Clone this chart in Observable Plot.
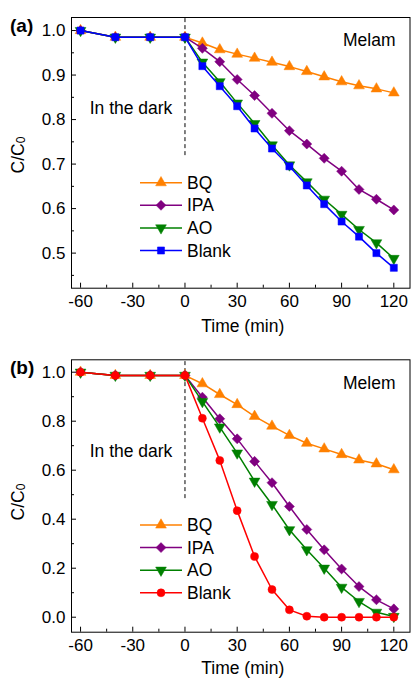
<!DOCTYPE html>
<html><head><meta charset="utf-8">
<script src="https://cdn.jsdelivr.net/npm/d3@7"></script>
<script src="https://cdn.jsdelivr.net/npm/@observablehq/plot@0.6"></script>
<style>
body{margin:0;background:#fff;}
#wrap{position:relative;width:411px;height:678px;font-family:"Liberation Sans",Arial,sans-serif;}
.panel{position:absolute;left:0;width:411px;height:339px;}
.panel svg{overflow:visible;}
</style></head><body><div id="wrap"></div>
<script>
// ---------- data ----------
const time = [-60,-40,-20,0,10,20,30,40,50,60,70,80,90,100,110,120];
const seriesNames = ["BQ","IPA","AO","Blank"];

const melamBQ    = [1.0,0.985,0.985,0.985,0.972,0.957,0.947,0.938,0.929,0.919,0.908,0.896,0.885,0.876,0.869,0.860];
const melamIPA   = [1.0,0.985,0.985,0.985,0.960,0.930,0.890,0.854,0.814,0.775,0.745,0.713,0.684,0.643,0.621,0.597];
const melamAO    = [1.0,0.985,0.985,0.985,0.929,0.885,0.837,0.791,0.743,0.698,0.660,0.621,0.587,0.553,0.523,0.488];
const melamBlank = [1.0,0.985,0.985,0.985,0.920,0.875,0.830,0.780,0.735,0.695,0.652,0.610,0.571,0.537,0.500,0.467];

const melemBQ    = [1.0,0.987,0.987,0.987,0.953,0.909,0.868,0.820,0.780,0.742,0.710,0.687,0.664,0.642,0.626,0.602];
const melemIPA   = [1.0,0.987,0.987,0.987,0.898,0.810,0.728,0.636,0.549,0.452,0.358,0.275,0.197,0.125,0.071,0.034];
const melemAO    = [1.0,0.987,0.987,0.987,0.880,0.776,0.670,0.555,0.460,0.357,0.275,0.200,0.122,0.064,0.020,0.003];
const melemBlank = [1.0,0.987,0.987,0.987,0.812,0.640,0.435,0.248,0.113,0.030,0.004,0.000,0.000,0.000,0.000,0.000];

const xTicks  = [-60,-30,0,30,60,90,120];
const xMinor  = [-45,-15,15,45,75,105];
const yTicksA = [0.5,0.6,0.7,0.8,0.9,1.0];
const yMinorA = [0.45,0.55,0.65,0.75,0.85,0.95];
const yTicksB = [0.0,0.2,0.4,0.6,0.8,1.0];
const yMinorB = [0.1,0.3,0.5,0.7,0.9];

// ---------- symbols ----------
const triDown = {draw(ctx, size){
  const a = Math.sqrt(size*4/Math.sqrt(3)), h = a*Math.sqrt(3)/2;
  ctx.moveTo(0, 2*h/3); ctx.lineTo(a/2, -h/3); ctx.lineTo(-a/2, -h/3); ctx.closePath();
}};
const triUp = {draw(ctx, size){
  const a = Math.sqrt(size*4/Math.sqrt(3)), h = a*Math.sqrt(3)/2;
  ctx.moveTo(0, -2*h/3); ctx.lineTo(a/2, h/3); ctx.lineTo(-a/2, h/3); ctx.closePath();
}};
const diamond = {draw(ctx, size){
  const d = Math.sqrt(size/2);
  ctx.moveTo(0,-d); ctx.lineTo(d,0); ctx.lineTo(0,d); ctx.lineTo(-d,0); ctx.closePath();
}};
const squareSym = {draw(ctx, size){
  const s = Math.sqrt(size)/2;
  ctx.rect(-s,-s,2*s,2*s);
}};

const FONT = "'Liberation Sans', Arial, sans-serif";
const R = 4;

function makePanel(cfg){
  const series = [
    {name:"BQ", vals:cfg.bq, color:"#ff8000", sym:triUp},
    {name:"IPA", vals:cfg.ipa, color:"#800080", sym:diamond},
    {name:"AO", vals:cfg.ao, color:"#008000", sym:triDown},
    {name:"Blank", vals:cfg.blank, color:cfg.blankColor, sym:cfg.blankSym}
  ];
  const marks = [
    Plot.frame({stroke:"#000", strokeWidth:1}),
    Plot.ruleX([0], {y1: cfg.darkEnd, y2: cfg.yDomain[1], stroke:"#000", strokeWidth:1, strokeDasharray:"4,3"}),
    Plot.axisX({ticks:xTicks, tickSize:5, dy:-5, tickFormat:()=>"", label:null}),
    Plot.axisX({ticks:xMinor, tickSize:3, dy:-3, tickFormat:()=>"", label:null}),
    Plot.axisX({ticks:xTicks, tickSize:0, tickPadding:7, tickFormat:d=>String(d), label:null, fontSize:17}),
    Plot.axisY({ticks:cfg.yTicks, tickSize:5, dx:5, tickFormat:()=>"", label:null}),
    Plot.axisY({ticks:cfg.yMinor, tickSize:3, dx:3, tickFormat:()=>"", label:null}),
    Plot.axisY({ticks:cfg.yTicks, tickSize:0, tickPadding:6, tickFormat:d3.format(".1f"), label:null, fontSize:17}),
    Plot.text(["Time (min)"], {frameAnchor:"bottom", lineAnchor:"middle", dy:cfg.xlDy, dx:2, fontSize:17.5, fill:"#000"}),
    Plot.text(["In the dark"], {x:-31, y:cfg.darkTextY, fontSize:17.5, fill:"#000"}),
    Plot.text([cfg.title], {x:121, y:cfg.titleY, textAnchor:"end", fontSize:17.5, fill:"#000"})
  ];
  for (const s of series){
    const data = time.map((t,i)=>({t, v:s.vals[i]}));
    marks.push(Plot.line(data, {x:"t", y:"v", stroke:s.color, strokeWidth:1.5}));
    marks.push(Plot.dot(data, {x:"t", y:"v", symbol:s.sym, r:R, fill:s.color, stroke:s.color, strokeWidth:0.5}));
  }
  const svg = Plot.plot({
    width:411, height:339,
    marginTop:cfg.mt, marginBottom:cfg.mb, marginLeft:71, marginRight:1.5,
    style:{fontFamily:FONT, fontSize:"17px", color:"#000", background:"transparent"},
    x:{domain:[-65.2,129.3]},
    y:{domain:cfg.yDomain},
    marks
  });
  const s = d3.select(svg);
  // y label with subscript
  const yl = s.append("text").attr("transform",`translate(${cfg.ylx},${cfg.yly}) rotate(-90)`)
    .attr("text-anchor","middle").attr("dominant-baseline","middle")
    .attr("font-size",17.5).attr("font-family",FONT).attr("fill","#000");
  yl.append("tspan").text("C/C");
  yl.append("tspan").attr("font-size",12).attr("dy",3).text("0");
  // panel label
  s.append("text").attr("x",10).attr("y",cfg.plBase).attr("text-anchor","start")
    .attr("font-size",19).attr("font-weight","bold")
    .attr("font-family",FONT).attr("fill","#000").text(cfg.panelLabel);
  // legend
  const lg = s.append("g");
  series.forEach((se,i)=>{
    const y = cfg.legY + i*22.6;
    lg.append("line").attr("x1",140).attr("x2",182).attr("y1",y).attr("y2",y)
      .attr("stroke",se.color).attr("stroke-width",1.5);
    lg.append("path").attr("d", d3.symbol().type(se.sym).size(R*R*Math.PI)())
      .attr("transform",`translate(161,${y})`).attr("fill",se.color).attr("stroke",se.color).attr("stroke-width",0.5);
    lg.append("text").attr("x",187).attr("y",y).attr("dy","0.35em").attr("text-anchor","start")
      .attr("font-size",17.5).attr("font-family",FONT).attr("fill","#000").text(se.name);
  });
  return svg;
}

const wrap = document.getElementById("wrap");
const pA = document.createElement("div"); pA.className="panel"; pA.style.top="0px";
const pB = document.createElement("div"); pB.className="panel"; pB.style.top="339px";
wrap.appendChild(pA); wrap.appendChild(pB);

pA.appendChild(makePanel({
  bq:melamBQ, ipa:melamIPA, ao:melamAO, blank:melamBlank, blankColor:"#0000ff", blankSym:squareSym,
  yDomain:[0.4212,1.0293], yTicks:yTicksA, yMinor:yMinorA, mt:17, mb:51.3, xlDy:38,
  darkEnd:0.719, darkTextY:0.8245, title:"Melam", titleY:0.9775,
  ylx:19, yly:155, plBase:32, panelLabel:"(a)", legY:182.7
}));
pB.appendChild(makePanel({
  bq:melemBQ, ipa:melemIPA, ao:melemAO, blank:melemBlank, blankColor:"#ff0000", blankSym:d3.symbolCircle,
  yDomain:[-0.0612,1.0506], yTicks:yTicksB, yMinor:yMinorB, mt:20.3, mb:46.3, xlDy:36.5,
  darkEnd:0.484, darkTextY:0.678, title:"Melem", titleY:0.954,
  ylx:19, yly:163, plBase:34.5, panelLabel:"(b)", legY:186
}));
</script></body></html>
